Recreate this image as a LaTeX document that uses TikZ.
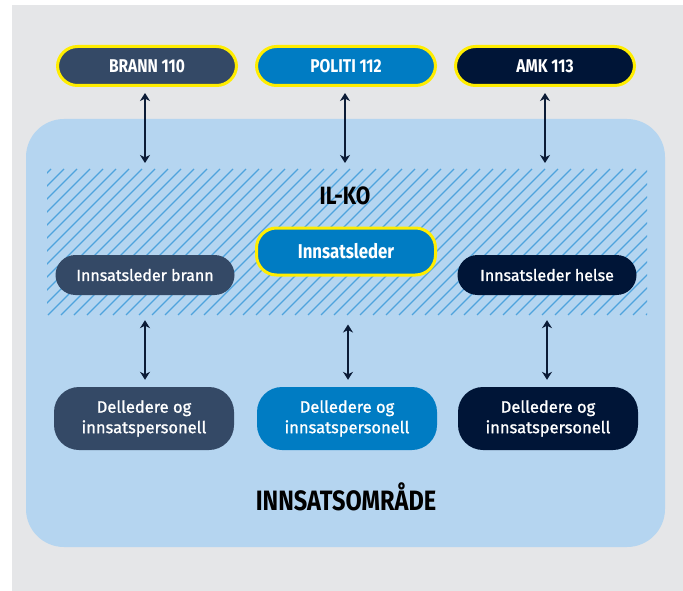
\documentclass[tikz,border=0pt]{standalone}
\usepackage{fontspec}
\setmainfont{Fira Sans}
\newfontfamily\headfont[FakeStretch=0.84]{Fira Sans}
\newfontfamily\medfont[FakeBold=1.2]{Fira Sans}
\usetikzlibrary{arrows.meta}

\definecolor{panelgray}{HTML}{E5E6E8}
\definecolor{areablue}{HTML}{B5D5F0}
\definecolor{hatchblue}{HTML}{4FA3DD}
\definecolor{brannblue}{HTML}{344966}
\definecolor{politiblue}{HTML}{007CC3}
\definecolor{amknavy}{HTML}{001537}
\definecolor{signyellow}{HTML}{FFED00}
\definecolor{arrownavy}{HTML}{0B1B36}

\tikzset{
  pill/.style={rounded corners=20pt, minimum height=39pt, text=white,
    inner sep=0pt, font=\headfont\bfseries\fontsize{18.5}{20}\selectfont},
  central/.style={pill, draw=signyellow, line width=3pt, minimum width=179pt},
  leader/.style={rounded corners=20pt, minimum height=40pt, minimum width=179pt,
    inner sep=0pt, text=white, font=\medfont\fontsize{16}{18}\selectfont},
  crew/.style={rounded corners=25pt, minimum height=63pt, minimum width=180pt,
    inner sep=0pt, text=white, align=center,
    font=\medfont\fontsize{16.5}{20.5}\selectfont},
  link/.style={arrownavy, line width=2.8pt,
    {Stealth[length=8pt,width=10pt,inset=2.5pt]}-{Stealth[length=8pt,width=10pt,inset=2.5pt]}},
  heading/.style={font=\headfont\bfseries\fontsize{25}{27}\selectfont, text=black}
}

\begin{document}
\begin{tikzpicture}[x=1pt,y=-1pt]
  \useasboundingbox (0,0) rectangle (683,591);
  \fill[white] (0,0) rectangle (683,591);
  \fill[panelgray] (12,5) rectangle (683,591);

  % operational area
  \fill[areablue, rounded corners=38pt] (26,119) rectangle (665,547);

  % hatched coordination band
  \begin{scope}
    \clip (47,169) rectangle (647,315);
    \foreach \i in {-160,-147,...,660}
      \draw[hatchblue, line width=1.2pt] (\i,315) -- ++(146,-146);
  \end{scope}

  % emergency centres
  \node[central, fill=brannblue]  (brann)  at (147,66)  {BRANN 110};
  \node[central, fill=politiblue] (politi) at (346,66)  {POLITI 112};
  \node[central, fill=amknavy]    (amk)    at (545,66)  {AMK 113};

  % incident command post
  \node[heading] (ilko) at (345,196) {IL-KO};
  \node[central, fill=politiblue, minimum height=47pt,
        font=\headfont\bfseries\fontsize{20}{22}\selectfont] (leder) at (346,251.5) {Innsatsleder};
  \node[leader, fill=brannblue] (lbrann) at (145,275) {Innsatsleder brann};
  \node[leader, fill=amknavy]   (lhelse) at (547,275) {Innsatsleder helse};

  % section leaders and personnel
  \node[crew, fill=brannblue]  (cbrann)  at (144,418.5) {Delledere og\\innsatspersonell};
  \node[crew, fill=politiblue] (cpoliti) at (347,418.5) {Delledere og\\innsatspersonell};
  \node[crew, fill=amknavy]    (chelse)  at (548,418.5) {Delledere og\\innsatspersonell};

  \node[heading, font=\headfont\bfseries\fontsize{28}{30}\selectfont] (area) at (346,497) {INNSATSOMRÅDE};

  % band entry points
  \coordinate (bandA) at (145,163);
  \coordinate (bandB) at (345,163);
  \coordinate (bandC) at (545,163);

  % links
  \draw[link, shorten <=6pt] (bandA |- brann.south) -- (bandA);
  \draw[link, shorten <=6pt] (bandB |- politi.south) -- (bandB);
  \draw[link, shorten <=6pt] (bandC |- amk.south) -- (bandC);

  \draw[link, shorten <=25pt, shorten >=7pt] (lbrann.south) -- (lbrann.south |- cbrann.north);
  \draw[link, shorten <=48pt, shorten >=7pt] ([xshift=2pt]leder.south) -- ([xshift=2pt]leder.south |- cpoliti.north);
  \draw[link, shorten <=25pt, shorten >=7pt] (lhelse.south) -- (lhelse.south |- chelse.north);
\end{tikzpicture}
\end{document}
